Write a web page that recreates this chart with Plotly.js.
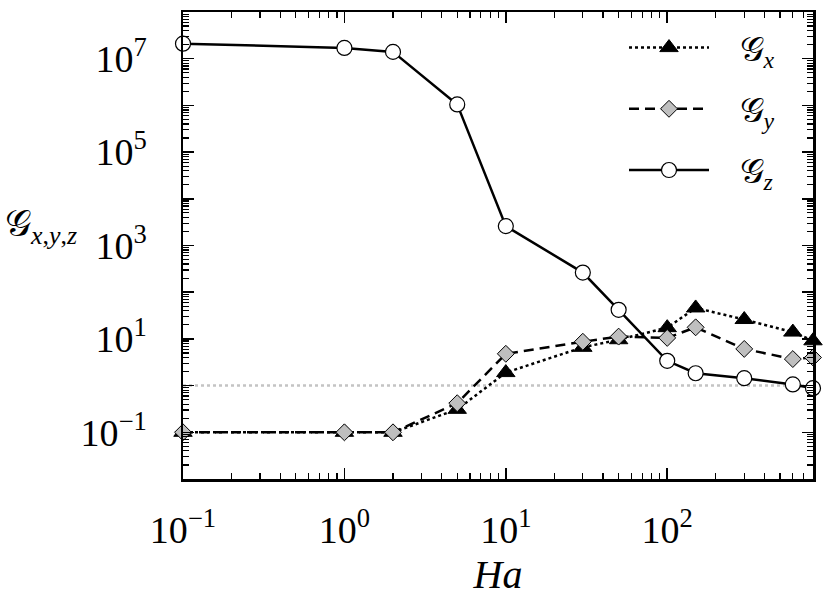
<!DOCTYPE html>
<html><head><meta charset="utf-8">
<script src="https://cdn.plot.ly/plotly-3.0.1.min.js"></script>
<style>body{margin:0;background:#fff}#c{width:830px;height:616px}</style>
</head><body><div id="c"></div>
<script>
const ha = [0.1, 1, 2, 5, 10, 30, 50, 100, 150, 300, 600, 800];
const gx = [0.1, 0.1, 0.1, 0.31, 1.9, 6.6, 9.6, 17.4, 46, 26, 14, 9.1];
const gy = [0.1, 0.1, 0.1, 0.42, 4.8, 8.7, 11.2, 10.5, 17.7, 6.1, 3.7, 4.0];
const gz = [2.1e7, 1.7e7, 1.4e7, 1.05e6, 2.6e3, 263, 42, 3.4, 1.84, 1.44, 1.06, 0.88];
const refLevel = 1;
const xTickVals = [0.1, 1, 10, 100];
const xTickText = ['10<sup>−1</sup>', '10<sup>0</sup>', '10<sup>1</sup>', '10<sup>2</sup>'];
const yTickVals = [1e-2, 1e-1, 1, 10, 1e2, 1e3, 1e4, 1e5, 1e6, 1e7, 1e8];
const yTickText = ['', '10<sup>−1</sup>', '', '10<sup>1</sup>', '', '10<sup>3</sup>', '', '10<sup>5</sup>', '', '10<sup>7</sup>', ''];
const names = ['\u00a0\u00a0\u00a0𝒢<sub><i>x</i></sub>', '\u00a0\u00a0\u00a0𝒢<sub><i>y</i></sub>', '\u00a0\u00a0\u00a0𝒢<sub><i>z</i></sub>'];

const FONT = 'Liberation Serif, DejaVu Serif, serif';
const traces = [
  {x: [ha[0], ha[ha.length-1]], y: [refLevel, refLevel], mode: 'lines', showlegend: false, hoverinfo: 'skip',
   line: {color: '#c4c4c4', width: 2.5, dash: 'dot'}},
  {x: ha, y: gx, name: names[0], legendgroup: 'a', mode: 'lines+markers', cliponaxis: false,
   line: {color: 'black', width: 2.5, dash: 'dot'},
   marker: {symbol: 'triangle-up', size: 16, color: 'black', line: {color: 'black', width: 1}}},
  {x: ha, y: gy, name: names[1], legendgroup: 'b', mode: 'lines+markers', cliponaxis: false,
   line: {color: 'black', width: 2.5, dash: '10px,6px'},
   marker: {symbol: 'diamond', size: 13, color: '#bfbfbf', line: {color: 'black', width: 1}}},
  {x: ha, y: gz, name: names[2], legendgroup: 'c', mode: 'lines+markers', cliponaxis: false,
   line: {color: 'black', width: 2.5},
   marker: {symbol: 'circle', size: 15, color: 'white', line: {color: 'black', width: 1.2}}}
];
const axBase = {showgrid: false, zeroline: false, showline: true, linecolor: 'black', linewidth: 2.5,
  mirror: 'ticks', ticks: 'inside', ticklen: 11, tickwidth: 1.5, tickcolor: 'black',
  tickfont: {family: FONT, size: 38, color: 'black'},
  minor: {ticks: 'inside', ticklen: 6, tickwidth: 1.2, tickcolor: 'black', dtick: 'D1', showgrid: false}};
const layout = {
  width: 830, height: 616, paper_bgcolor: 'white', plot_bgcolor: 'white',
  margin: {l: 183, r: 17, t: 12, b: 137},
  font: {family: FONT, color: 'black'},
  xaxis: Object.assign({}, axBase, {type: 'log', range: [-1, Math.log10(800)],
    tickmode: 'array', tickvals: xTickVals, ticktext: xTickText, ticklabelstandoff: 16,
    title: {text: '<i>Ha</i>', font: {family: FONT, size: 40, color: 'black'}, standoff: 10}}),
  yaxis: Object.assign({}, axBase, {type: 'log', range: [-2, 8],
    tickmode: 'array', tickvals: yTickVals, ticktext: yTickText, ticklabelstandoff: 26}),
  legend: {x: 0.70, y: 0.985, xanchor: 'left', yanchor: 'top', bgcolor: 'rgba(0,0,0,0)',
    itemwidth: 80, traceorder: 'grouped', tracegroupgap: 14,
    font: {family: FONT, size: 34, color: 'black'}},
  annotations: [{xref: 'paper', yref: 'paper', x: -0.285, y: 0.54, xanchor: 'left', yanchor: 'middle',
    showarrow: false, text: '𝒢<sub><i>x</i>,<i>y</i>,<i>z</i></sub>', font: {family: FONT, size: 37, color: 'black'}}]
};
Plotly.newPlot('c', traces, layout, {staticPlot: true});
</script></body></html>
